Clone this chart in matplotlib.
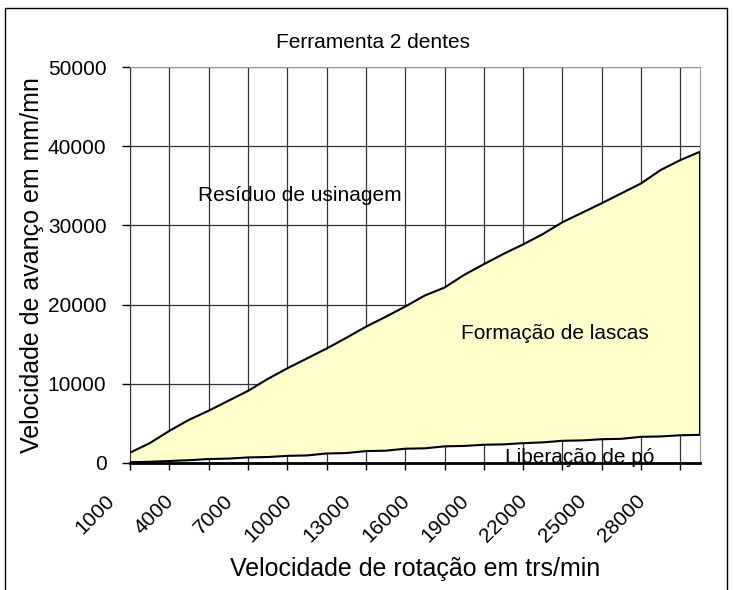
import matplotlib
matplotlib.use("Agg")
import matplotlib.pyplot as plt
import matplotlib.transforms as mtransforms
from matplotlib.lines import Line2D

plt.rcParams["font.family"] = ["Liberation Sans", "DejaVu Sans"]

# rotation speed categories (trs/min)
rpm = [1000, 2000, 3000, 4000, 5000, 6000, 7000, 8000, 9000, 10000,
       11000, 12000, 13000, 14000, 15000, 16000, 17000, 18000, 19000, 20000,
       21000, 22000, 23000, 24000, 25000, 26000, 27000, 28000, 29000, 30000]

# upper limit: chip formation / machining residue boundary (mm/mn)
upper = [1300, 2500, 4050, 5450, 6600, 7850, 9100, 10600, 11950, 13200,
         14450, 15800, 17200, 18450, 19750, 21150, 22150, 23750, 25100, 26400,
         27600, 28900, 30400, 31600, 32800, 34050, 35300, 37000, 38250, 39300]

# lower limit: dust release / chip formation boundary (mm/mn)
lower = [100, 150, 250, 350, 500, 550, 700, 750, 900, 950,
         1200, 1250, 1500, 1550, 1800, 1850, 2100, 2150, 2300, 2350,
         2500, 2600, 2800, 2850, 3000, 3050, 3300, 3350, 3500, 3550]

label_ticks = [1000, 4000, 7000, 10000, 13000, 16000, 19000, 22000, 25000, 28000]
grid_ticks = [1000, 3000, 5000, 7000, 9000, 11000, 13000, 15000, 17000, 19000,
              21000, 23000, 25000, 27000, 29000]


def main():
    fig = plt.figure(figsize=(7.33, 5.90), dpi=100)
    ax = fig.add_axes([0.1774, 0.2153, 0.955 - 0.1774, 0.8864 - 0.2153])

    # ---- zones ----
    ax.fill_between(rpm, lower, upper, color="#FFFFCC", zorder=2, linewidth=0)
    ax.plot(rpm, upper, color="black", lw=1.5, zorder=3)
    ax.plot(rpm, lower, color="black", lw=1.5, zorder=3)
    ax.vlines(rpm[-1], lower[-1], upper[-1], color="black", lw=1.5, zorder=3)

    ax.set_xlim(rpm[0], rpm[-1])
    ax.set_ylim(0, 50000)
    ax.set_yticks([0, 10000, 20000, 30000, 40000, 50000])

    # gridlines / tick marks every 2 categories, labels every 3
    ax.xaxis.remove_overlapping_locs = False
    ax.set_xticks(grid_ticks)
    ax.set_xticklabels([])
    ax.set_xticks(label_ticks, minor=True)
    ax.set_xticklabels([str(v) for v in label_ticks], minor=True,
                       rotation=45, ha="right", rotation_mode="anchor")
    ax.tick_params(axis="x", which="minor", length=0, pad=20, labelsize=15)
    ax.tick_params(axis="x", which="major", direction="out", length=5, width=1)
    ax.tick_params(axis="y", direction="out", length=6, width=1, pad=11, labelsize=15)

    shift = mtransforms.ScaledTranslation(-25 / 100, 0, fig.dpi_scale_trans)
    for lab in ax.get_xticklabels(minor=True):
        lab.set_transform(lab.get_transform() + shift)

    ax.grid(True, which="major", color="#333333", lw=0.9)
    ax.set_axisbelow(True)

    for s in ["top", "right"]:
        ax.spines[s].set_color("#999999")
    ax.spines["left"].set_color("#333333")
    ax.spines["bottom"].set_linewidth(2)

    ax.set_xlabel("Velocidade de rotação em trs/min", fontsize=18, labelpad=8)
    ax.set_ylabel("Velocidade de avanço em mm/mn", fontsize=18, labelpad=3)
    fig.text(0.509, 0.928, "Ferramenta 2 dentes", ha="center", va="center", fontsize=15)

    ax.text(9650, 33800, "Resíduo de usinagem", ha="center", va="center", fontsize=15, zorder=4)
    ax.text(22600, 16400, "Formação de lascas", ha="center", va="center", fontsize=15, zorder=4)
    ax.text(23900, 750, "Liberação de pó", ha="center", va="center", fontsize=15, zorder=4)

    # outer chart border
    fig.add_artist(Line2D([0.0075, 0.0075, 0.992, 0.992], [0.0, 0.986, 0.986, 0.0],
                          transform=fig.transFigure, color="black", lw=1))

    fig.savefig("out.png", dpi=100)
    plt.close(fig)


if __name__ == "__main__":
    main()
